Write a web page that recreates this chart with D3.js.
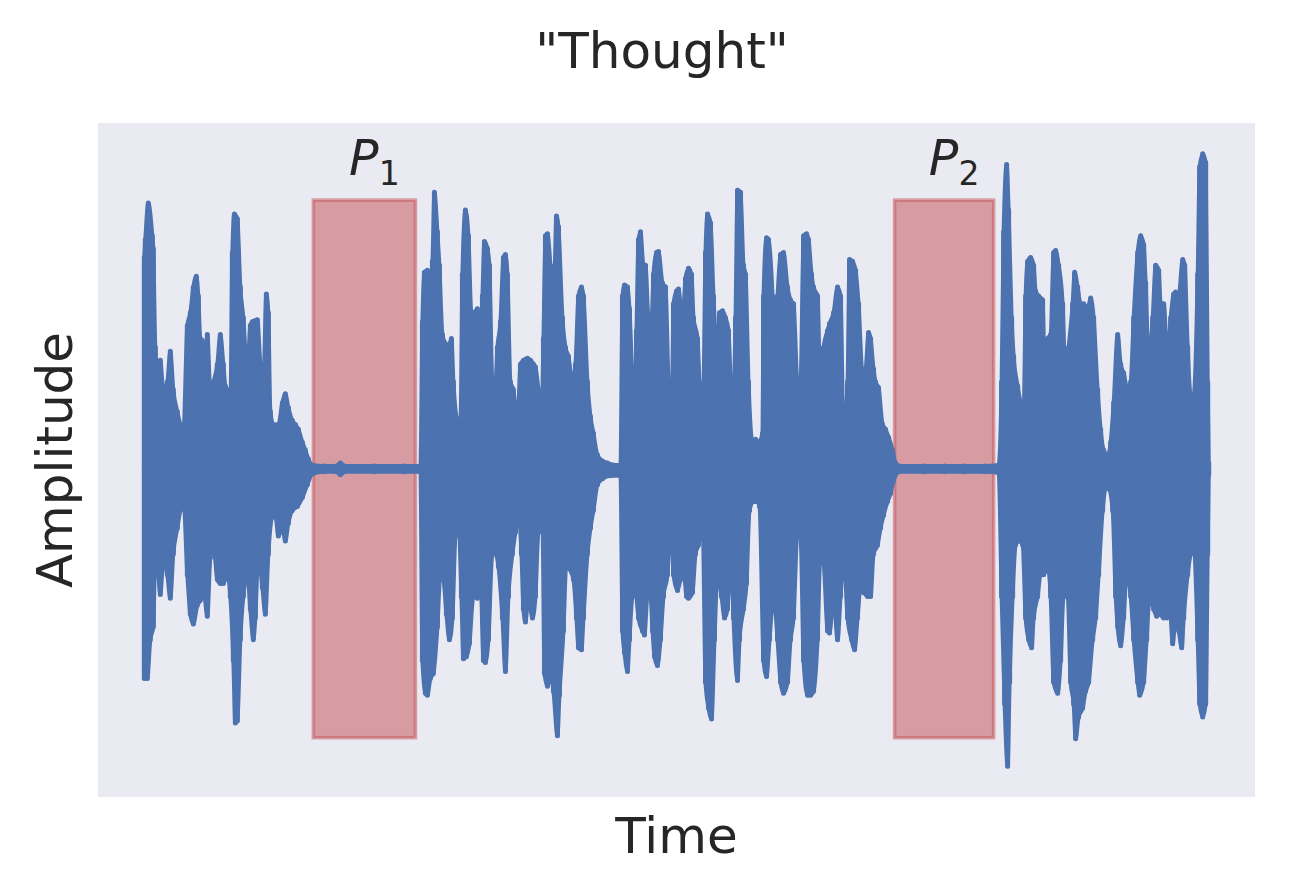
<!DOCTYPE html>
<html><head><meta charset="utf-8">
<script src="https://cdn.jsdelivr.net/npm/d3@7"></script>
<style>body{margin:0;background:#fff}</style>
</head><body>
<svg id="chart" width="1293" height="894"></svg>
<script>
// Waveform envelope: [time (ms), amplitude]
const upperEnvelope = [
[0,214],[1,232],[4,269],[8,236],[9,223],[11,123],[14,97],[16,110],[19,80],[23,88],[26,119],[29,80],[33,58],[36,45],[39,36],[43,145],[46,158],[49,184],[52,195],[54,175],[56,132],[58,130],[61,88],[63,136],[66,80],[69,88],[73,106],[76,136],[79,106],[81,84],[83,80],[86,62],[88,219],[90,258],[93,253],[96,184],[99,153],[103,97],[106,145],[108,149],[113,151],[116,106],[119,88],[122,177],[124,158],[126,58],[129,45],[134,45],[138,67],[141,76],[144,62],[148,49],[151,45],[154,40],[158,27],[161,19],[164,10],[168,4],
[180,3],[192,3],[196,6],[200,3],[230,3],[260,3],[276,3],
[278,149],[280,199],[283,201],[285,184],[288,210],[290,280],[293,240],[295,206],[298,136],[301,127],[304,123],[307,132],[309,88],[313,49],[316,45],[318,197],[321,262],[324,236],[327,158],[329,158],[333,162],[335,88],[338,175],[340,230],[343,223],[345,206],[348,88],[351,88],[353,123],[356,149],[359,214],[361,217],[363,197],[366,88],[369,80],[373,45],[376,106],[379,110],[383,112],[386,110],[391,103],[394,80],[397,45],[399,132],[401,236],[403,238],[406,206],[409,158],[412,256],[414,245],[418,153],[421,123],[424,114],[428,88],[431,106],[434,175],[437,184],[439,175],[443,88],[446,53],[449,36],[453,14],[458,8],[463,6],[469,4],[476,4],
[478,175],[480,186],[483,184],[485,162],[488,88],[490,49],[492,140],[494,232],[496,240],[499,206],[501,206],[504,153],[507,149],[509,197],[512,219],[514,220],[518,188],[521,184],[524,88],[527,36],[529,167],[532,180],[534,182],[538,149],[541,193],[544,203],[547,197],[549,153],[553,132],[555,88],[558,27],[561,219],[563,258],[566,249],[569,175],[573,110],[575,158],[578,160],[581,153],[584,140],[588,45],[591,153],[593,282],[596,280],[599,206],[601,197],[604,88],[608,27],[611,30],[614,27],[618,36],[619,175],[622,234],[624,232],[628,175],[630,119],[633,175],[636,217],[639,219],[643,184],[646,171],[649,167],[653,88],[656,88],[659,236],[662,238],[664,232],[667,197],[669,184],[673,175],[676,75],[679,123],[683,140],[685,147],[689,158],[693,184],[696,175],[699,36],[703,88],[705,212],[708,210],[711,201],[714,167],[718,97],[721,101],[724,138],[726,132],[729,101],[731,88],[734,82],[738,45],[741,40],[744,32],[748,19],[751,6],
[755,3],[780,3],[800,3],[820,3],[840,3],[854,4],
[857,88],[859,240],[862,308],[864,262],[867,153],[869,114],[873,84],[876,67],[879,58],[881,175],[883,210],[886,214],[889,206],[891,180],[894,175],[898,171],[900,97],[903,132],[906,136],[909,219],[911,221],[914,206],[918,167],[921,88],[924,123],[928,167],[930,199],[933,184],[936,167],[939,167],[943,162],[946,173],[949,153],[953,80],[956,40],[959,19],[963,14],[966,27],[969,67],[973,136],[976,106],[979,97],[983,80],[986,88],[989,153],[993,219],[996,236],[999,227],[1001,188],[1004,110],[1008,153],[1011,206],[1014,201],[1016,167],[1019,167],[1023,110],[1026,153],[1029,177],[1031,179],[1034,175],[1038,212],[1040,206],[1043,123],[1046,75],[1049,75],[1053,197],[1055,306],[1058,319],[1061,310],[1063,88],[1064,6]
];
const lowerEnvelope = [
[0,-212],[3,-212],[6,-173],[9,-160],[11,-86],[14,-107],[16,-127],[19,-94],[23,-107],[26,-131],[29,-86],[33,-60],[36,-42],[39,-29],[43,-107],[46,-147],[49,-157],[53,-138],[56,-133],[59,-120],[63,-149],[66,-90],[69,-77],[73,-112],[76,-116],[79,-116],[83,-107],[86,-129],[89,-194],[91,-257],[93,-255],[96,-173],[99,-129],[103,-107],[106,-142],[109,-173],[111,-151],[114,-86],[118,-120],[121,-147],[124,-86],[128,-49],[131,-47],[134,-68],[138,-60],[141,-73],[144,-55],[148,-42],[153,-38],[158,-29],[163,-16],[168,-5],
[180,-3],[192,-3],[196,-6],[200,-3],[230,-3],[260,-3],[276,-3],
[278,-194],[281,-227],[283,-229],[286,-212],[289,-207],[293,-160],[296,-107],[299,-112],[302,-147],[305,-173],[308,-151],[311,-68],[314,-51],[317,-129],[319,-192],[322,-190],[325,-177],[329,-129],[333,-131],[336,-107],[339,-194],[341,-196],[344,-173],[348,-86],[351,-86],[354,-99],[358,-151],[361,-205],[364,-129],[368,-86],[371,-64],[374,-42],[377,-86],[379,-142],[381,-155],[384,-129],[388,-151],[391,-129],[394,-64],[398,-55],[400,-207],[403,-220],[406,-207],[409,-225],[413,-270],[415,-229],[419,-164],[422,-94],[425,-101],[429,-112],[432,-151],[434,-181],[437,-183],[439,-151],[443,-86],[446,-60],[449,-42],[453,-16],[458,-10],[466,-7],[476,-7],
[478,-164],[480,-186],[483,-205],[485,-173],[488,-129],[491,-125],[494,-151],[498,-164],[500,-168],[503,-129],[506,-129],[508,-164],[510,-190],[513,-199],[516,-173],[519,-129],[523,-107],[526,-42],[529,-107],[533,-123],[536,-112],[539,-103],[542,-129],[544,-131],[548,-125],[551,-86],[554,-77],[558,-51],[561,-216],[564,-242],[567,-253],[570,-173],[573,-107],[577,-129],[580,-151],[583,-142],[587,-86],[589,-151],[593,-214],[595,-173],[599,-142],[602,-116],[605,-42],[609,-33],[612,-33],[615,-38],[619,-194],[622,-210],[625,-173],[629,-129],[633,-173],[636,-216],[639,-227],[643,-216],[646,-173],[649,-151],[653,-64],[656,-68],[659,-194],[663,-229],[666,-229],[669,-225],[673,-173],[676,-86],[679,-94],[683,-164],[685,-166],[689,-129],[693,-173],[696,-129],[699,-86],[703,-151],[707,-173],[710,-183],[713,-151],[716,-120],[719,-125],[723,-129],[726,-129],[729,-86],[733,-77],[736,-60],[739,-47],[743,-33],[746,-25],[749,-12],
[755,-3],[780,-3],[800,-3],[820,-3],[840,-3],[854,-4],
[857,-129],[860,-238],[863,-301],[865,-216],[868,-129],[871,-77],[874,-73],[878,-77],[881,-151],[884,-173],[887,-181],[889,-151],[893,-129],[896,-107],[899,-107],[903,-99],[906,-129],[909,-216],[913,-227],[916,-194],[919,-129],[923,-129],[926,-216],[929,-238],[931,-273],[934,-251],[938,-242],[941,-225],[944,-216],[948,-173],[951,-151],[954,-107],[958,-42],[961,-20],[964,-20],[968,-42],[971,-129],[973,-160],[976,-179],[979,-151],[982,-107],[986,-129],[989,-173],[993,-216],[995,-229],[999,-216],[1002,-173],[1005,-129],[1009,-142],[1012,-149],[1015,-147],[1019,-151],[1022,-151],[1025,-138],[1028,-177],[1031,-151],[1034,-164],[1037,-181],[1039,-151],[1043,-107],[1046,-86],[1049,-77],[1053,-173],[1055,-238],[1058,-251],[1061,-238],[1063,-86],[1064,-6]
];
// Highlighted pauses
const pauseLabels = ["P", "P"];
const pauseSubs = ["1", "2"];
const pauseStart = [169, 750];
const pauseEnd = [271, 849];
const pauseAmp = [272, 272];

const titleText = '"Thought"';
const xLabel = "Time";
const yLabel = "Amplitude";

const W = 1293, H = 894;
const plot = {left: 98, right: 1255, top: 123, bottom: 797};
const svg = d3.select("#chart");
const font = "'DejaVu Sans', sans-serif";
const textColor = "#262626";
const blue = "#4C72B0";
const red = "#C44E52";

const allT = upperEnvelope.concat(lowerEnvelope).map(d => d[0]);
const allA = upperEnvelope.concat(lowerEnvelope).map(d => d[1]);
const tMin = d3.min(allT), tMax = d3.max(allT);
const aMin = d3.min(allA), aMax = d3.max(allA);
const tPad = (tMax - tMin) * 0.0435, aPad = (aMax - aMin) * 0.05;

const x = d3.scaleLinear().domain([tMin - tPad, tMax + tPad]).range([plot.left, plot.right]);
const y = d3.scaleLinear().domain([aMin - aPad, aMax + aPad]).range([plot.bottom, plot.top]);

svg.append("rect").attr("width", W).attr("height", H).attr("fill", "#ffffff");
svg.append("rect")
  .attr("x", plot.left).attr("y", plot.top)
  .attr("width", plot.right - plot.left).attr("height", plot.bottom - plot.top)
  .attr("fill", "#EAEAF2");

// pause rectangles (behind waveform)
const g = svg.append("g");
pauseStart.forEach((s, i) => {
  g.append("rect")
    .attr("x", x(s)).attr("y", y(pauseAmp[i]))
    .attr("width", x(pauseEnd[i]) - x(s))
    .attr("height", y(-pauseAmp[i]) - y(pauseAmp[i]))
    .attr("fill", red).attr("fill-opacity", 0.5)
    .attr("stroke", red).attr("stroke-opacity", 0.5).attr("stroke-width", 3.5);
});

const areaGen = d3.area().x(d => x(d[0])).y0(y(0)).y1(d => y(d[1])).curve(d3.curveMonotoneX);
[upperEnvelope, lowerEnvelope].forEach(data => {
  g.append("path").attr("d", areaGen(data))
    .attr("fill", blue).attr("stroke", blue)
    .attr("stroke-width", 4).attr("stroke-linejoin", "round");
  // vertical strokes at each envelope sample (dense oscillation look)
  g.append("g").selectAll("line").data(data).join("line")
    .attr("x1", d => x(d[0])).attr("x2", d => x(d[0]))
    .attr("y1", y(0)).attr("y2", d => y(d[1]))
    .attr("stroke", blue).attr("stroke-width", 5).attr("stroke-linecap", "round");
});

// pause labels
pauseStart.forEach((s, i) => {
  const cx = (x(s) + x(pauseEnd[i])) / 2 + 10;
  const t = svg.append("text")
    .attr("x", cx).attr("y", y(pauseAmp[i]) - 25)
    .attr("text-anchor", "middle")
    .attr("font-family", font).attr("fill", textColor);
  t.append("tspan").attr("font-style", "italic").attr("font-size", 49).text(pauseLabels[i]);
  t.append("tspan").attr("font-size", 33).attr("dy", 10).text(pauseSubs[i]);
});

svg.append("text").attr("x", 662).attr("y", 68).attr("text-anchor", "middle")
  .attr("font-family", font).attr("font-size", 50).attr("fill", textColor).text(titleText);
svg.append("text").attr("x", (plot.left + plot.right) / 2).attr("y", 853).attr("text-anchor", "middle")
  .attr("font-family", font).attr("font-size", 50).attr("fill", textColor).text(xLabel);
svg.append("text").attr("transform", `translate(72,${(plot.top + plot.bottom) / 2}) rotate(-90)`)
  .attr("text-anchor", "middle")
  .attr("font-family", font).attr("font-size", 50).attr("fill", textColor).text(yLabel);
</script>
</body></html>
